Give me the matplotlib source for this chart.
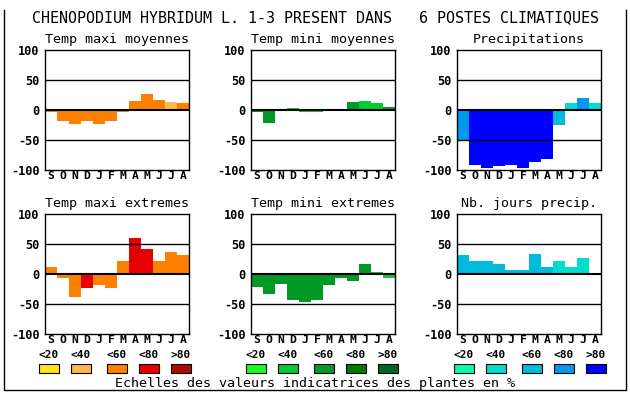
import matplotlib
matplotlib.use("Agg")
import matplotlib.pyplot as plt
from matplotlib.patches import Rectangle
from matplotlib.lines import Line2D

plt.rcParams["font.family"] = ["DejaVu Sans Mono"]

TITLE = "CHENOPODIUM HYBRIDUM L. 1-3 PRESENT DANS   6 POSTES CLIMATIQUES"
MONTHS = ["S", "O", "N", "D", "J", "F", "M", "A", "M", "J", "J", "A"]
CLASS_LABELS = ["<20", "<40", "<60", "<80", ">80"]
FOOTER = "Echelles des valeurs indicatrices des plantes en %"

PANEL_TITLES = ["Temp maxi moyennes", "Temp mini moyennes", "Precipitations",
                "Temp maxi extremes", "Temp mini extremes", "Nb. jours precip."]

# values in %, one per month (S..A)
tmax_moy = [-4, -18, -24, -18, -23, -18, -4, 15, 27, 17, 13, 12]
tmin_moy = [-4, -21, 0, 3, -3, -4, 0, 2, 13, 15, 12, 5]
precip = [-50, -92, -97, -93, -92, -97, -87, -82, -25, 12, 20, 12]
tmax_ext = [12, -6, -38, -24, -18, -24, 21, 60, 42, 22, 36, 32]
tmin_ext = [-21, -34, -16, -44, -46, -44, -18, -6, -11, 16, 4, -6]
nb_jours = [31, 21, 22, 16, 7, 7, 34, 11, 21, 11, 26, 2]

# class of each bar (0: <20 ... 4: >80)
tmax_moy_cls = [2, 2, 2, 2, 2, 2, 2, 2, 2, 2, 1, 2]
tmin_moy_cls = [2, 2, 2, 1, 1, 1, 2, 2, 2, 1, 1, 2]
precip_cls = [3, 4, 4, 4, 4, 4, 4, 4, 2, 1, 3, 1]
tmax_ext_cls = [2, 2, 2, 3, 2, 2, 2, 3, 3, 2, 2, 2]
tmin_ext_cls = [2, 2, 2, 2, 2, 2, 2, 2, 2, 2, 1, 1]
nb_jours_cls = [2, 2, 2, 2, 2, 2, 2, 2, 1, 1, 1, 2]

ORANGES = ["#FFE619", "#FFB84D", "#FF8000", "#E60000", "#AA0C00"]
GREENS = ["#19FF19", "#00CC33", "#009926", "#007A00", "#006622"]
BLUES = ["#00FFAA", "#00DDCC", "#00BBDD", "#0099EE", "#0000FF"]

panels = [
    (tmax_moy, tmax_moy_cls, ORANGES),
    (tmin_moy, tmin_moy_cls, GREENS),
    (precip, precip_cls, BLUES),
    (tmax_ext, tmax_ext_cls, ORANGES),
    (tmin_ext, tmin_ext_cls, GREENS),
    (nb_jours, nb_jours_cls, BLUES),
]

W, H = 630, 394
fig = plt.figure(figsize=(W / 100, H / 100), dpi=100)

lefts = [45, 251, 457]
tops = [50, 214]
aw, ah = 144, 120

fig.text(315 / W, 1 - 18 / H, TITLE, ha="center", va="center", fontsize=10.8)

for i, (vals, cls, pal) in enumerate(panels):
    col, row = i % 3, i // 3
    x0, y0 = lefts[col], tops[row]
    ax = fig.add_axes([x0 / W, 1 - (y0 + ah) / H, aw / W, ah / H])
    xs = range(len(MONTHS))
    ax.bar(xs, vals, width=1.0, color=[pal[c] for c in cls], linewidth=0, zorder=1)
    for yv, lw in [(50, 1.0), (-50, 1.0), (0, 1.5)]:
        ax.axhline(yv, color="black", lw=lw, zorder=3)
    ax.set_xlim(-0.5, 11.5)
    ax.set_ylim(-100, 100)
    ax.set_yticks([100, 50, 0, -50, -100])
    ax.set_yticklabels(["100", "50", "0", "-50", "-100"], fontsize=8.6,
                       fontweight="bold")
    ax.set_xticks(list(xs))
    ax.set_xticklabels(MONTHS, fontsize=8.2, fontweight="bold")
    ax.tick_params(axis="y", length=0, pad=4)
    ax.tick_params(axis="x", length=0, pad=0.5)
    for s in ax.spines.values():
        s.set_linewidth(1.0)
    ax.set_title(PANEL_TITLES[i], fontsize=9.6, pad=5)

# legend scales
offsets = [0, 32, 68, 100, 132]
for col, pal in enumerate([ORANGES, GREENS, BLUES]):
    gx = lefts[col] - [6, 5, 3][col]
    for k, (off, lab) in enumerate(zip(offsets, CLASS_LABELS)):
        bx = gx + off
        fig.patches.append(Rectangle((bx / W, 1 - 373 / H), 20 / W, 9 / H,
                                     transform=fig.transFigure,
                                     facecolor=pal[k], edgecolor="black", lw=0.8))
        fig.text((bx + 10) / W, 1 - 355 / H, lab, ha="center", va="center",
                 fontsize=8.0, fontweight="bold")

fig.text(315 / W, 1 - 383 / H, FOOTER, ha="center", va="center", fontsize=9.6)

# outer frame (left, bottom, right)
fig.lines.append(Line2D([4 / W, 4 / W, 626 / W, 626 / W],
                        [1 - 10 / H, 1 - 390 / H, 1 - 390 / H, 1 - 10 / H],
                        transform=fig.transFigure, color="black", lw=1.0))

fig.savefig("out.png", dpi=100)
